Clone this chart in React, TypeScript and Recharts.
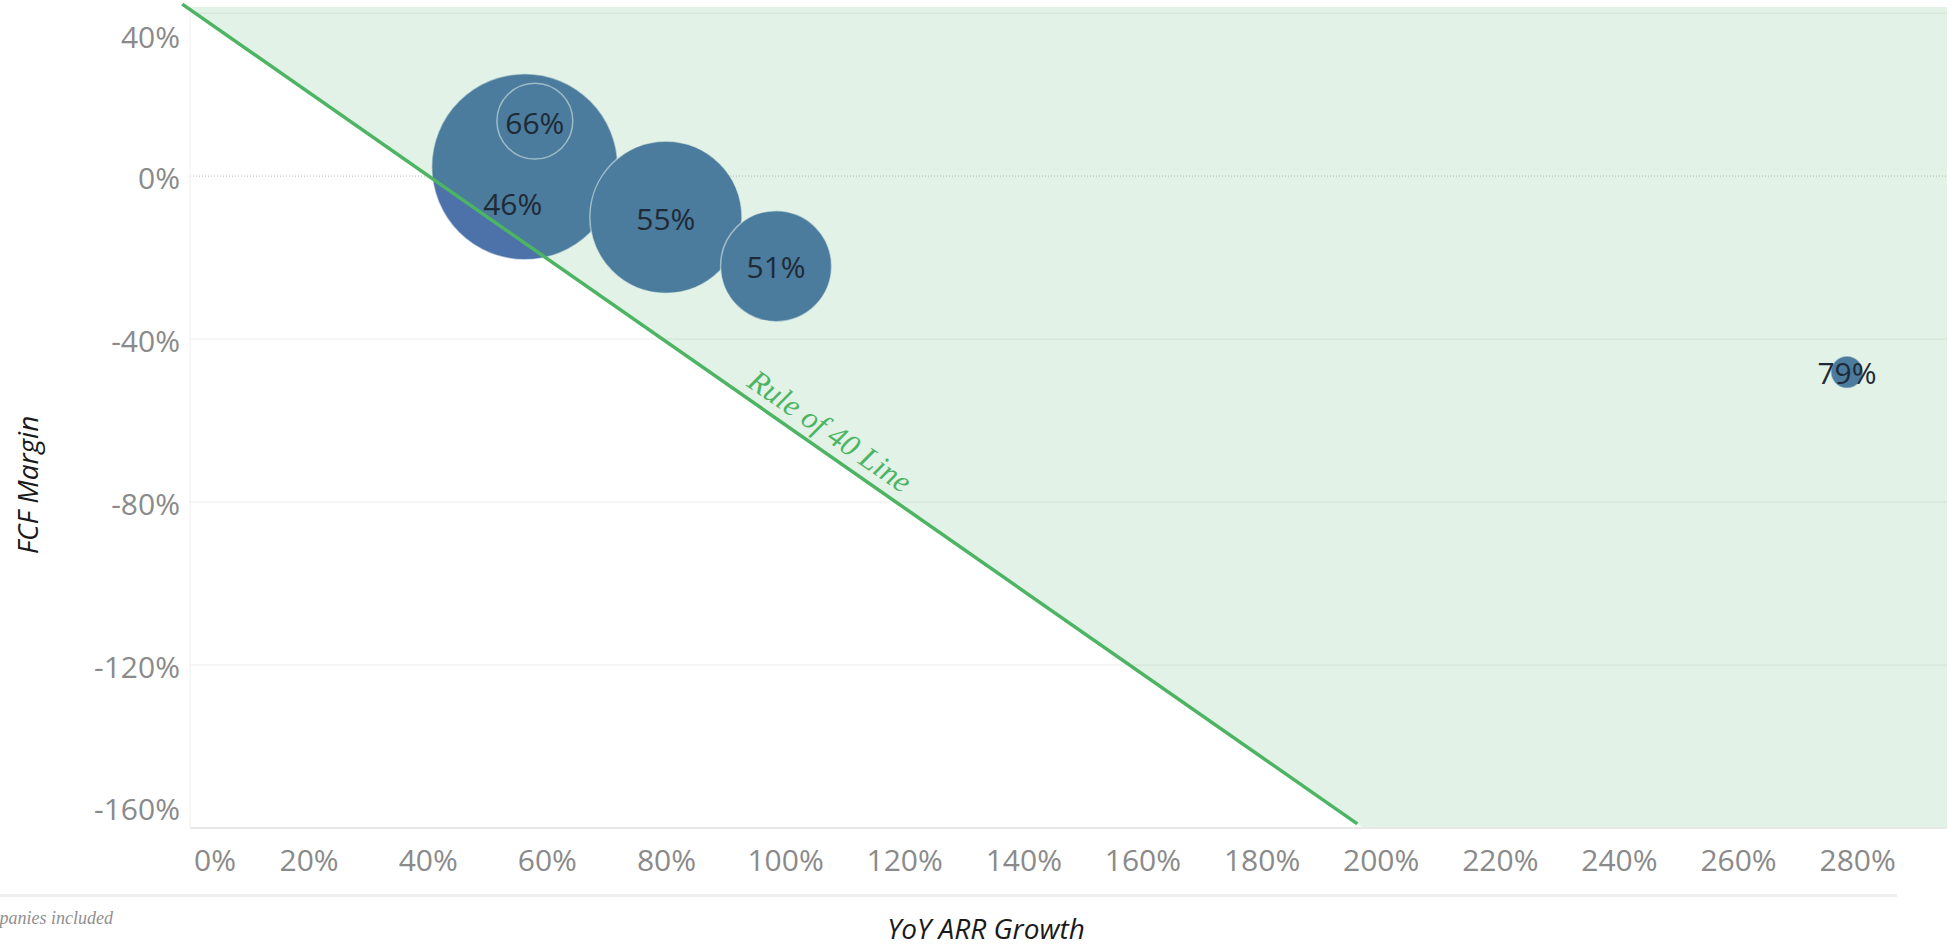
import {
  ComposedChart,
  Scatter,
  Area,
  XAxis,
  YAxis,
  CartesianGrid,
  ReferenceLine,
  ReferenceDot,
} from 'recharts';

// bubbles: YoY ARR growth (%), FCF margin (%), size, label (gross margin %)
const ARR_GROWTH = [56.2, 57.9, 79.9, 98.4, 278.2];
const FCF_MARGIN = [2.3, 13.5, -10.1, -22.1, -48.1];
const BUBBLE_SIZE = [865, 144, 578, 308, 26];
const GROSS_MARGIN = [46, 66, 55, 51, 79];

const X_TICKS = [0, 20, 40, 60, 80, 100, 120, 140, 160, 180, 200, 220, 240, 260, 280];
const Y_TICKS = [40, 0, -40, -80, -120, -160];

// rule of 40 line and the shaded zone above it
const RULE_X = [-1.3, 196];
const RULE_Y = [42.2, -159];
const ZONE_X = [0, 197, 295];
const ZONE_Y = [40.9, -160, -160];

const X_DOMAIN = [0, 295];
const Y_DOMAIN = [-160, 41.5];

const R_MAX = 93;
const BLUE = '#4C72A9';
const GREEN = '#4CB463';
const LABEL_SHIFT = [
  [-12, 38],
  [0, 2],
  [0, 2],
  [0, 1],
  [0, 1],
];

const bubbles = ARR_GROWTH.map((x, i) => ({
  x,
  y: FCF_MARGIN[i],
  size: BUBBLE_SIZE[i],
  label: `${GROSS_MARGIN[i]}%`,
  idx: i,
}));
const zone = ZONE_X.map((x, i) => ({ x, y: ZONE_Y[i] }));
const maxSize = Math.max(...BUBBLE_SIZE);

const Bubble = (props: any) => {
  const { cx, cy, payload } = props;
  const r = R_MAX * Math.sqrt(payload.size / maxSize);
  return (
    <circle cx={cx} cy={cy} r={r} fill={BLUE} stroke="#ffffff" strokeOpacity={0.55} strokeWidth={1.5} />
  );
};

const BubbleLabel = (props: any) => {
  const { cx, cy, payload } = props;
  const [dx, dy] = LABEL_SHIFT[payload.idx];
  return (
    <text
      x={cx + dx}
      y={cy + dy}
      dy="0.35em"
      textAnchor="middle"
      fontSize={30}
      fontFamily='"Open Sans", sans-serif'
      fill="#1e2a36"
    >
      {payload.label}
    </text>
  );
};

const XTick = ({ x, y, payload }: any) => (
  <text
    x={x + (payload.value === 0 ? 25 : 0)}
    y={y + 32}
    dy="0.35em"
    textAnchor="middle"
    fontSize={30}
    fontFamily='"Open Sans", sans-serif'
    fill="#8a8a8a"
  >
    {payload.value}%
  </text>
);

const YTick = ({ x, y, payload }: any) => {
  const shift = payload.value === 40 ? 24 : payload.value === -160 ? -19 : 2;
  return (
    <text
      x={x - 10}
      y={y + shift}
      dy="0.35em"
      textAnchor="end"
      fontSize={30}
      fontFamily='"Open Sans", sans-serif'
      fill="#8a8a8a"
    >
      {payload.value}%
    </text>
  );
};

const RuleLabel = ({ viewBox }: any) => {
  const cx = viewBox.x + viewBox.width / 2;
  const cy = viewBox.y + viewBox.height / 2;
  return (
    <text
      x={cx}
      y={cy}
      dy="0.35em"
      textAnchor="middle"
      transform={`rotate(34.7 ${cx} ${cy})`}
      fontSize={31}
      fontStyle="italic"
      fontFamily='"Liberation Serif", "DejaVu Serif", serif'
      fill={GREEN}
    >
      Rule of 40 Line
    </text>
  );
};

const App = () => {
  return (
    <div
      style={{
        position: 'absolute',
        left: 0,
        top: 0,
        width: 1957,
        height: 945,
        background: '#fff',
        overflow: 'hidden',
        fontFamily: '"Open Sans", sans-serif',
      }}
    >
      <ComposedChart width={1957} height={945} margin={{ top: 7, right: 10, bottom: 57, left: 0 }}>
        <CartesianGrid vertical={false} stroke="#ececec" horizontalValues={[40, -40, -80, -120]} />
        <XAxis
          dataKey="x"
          type="number"
          domain={X_DOMAIN}
          ticks={X_TICKS}
          allowDataOverflow
          height={60}
          tickSize={0}
          tickMargin={0}
          tickLine={false}
          axisLine={{ stroke: '#e8e8e8', strokeWidth: 2 }}
          tick={<XTick />}
        />
        <YAxis
          dataKey="y"
          type="number"
          domain={Y_DOMAIN}
          ticks={Y_TICKS}
          allowDataOverflow
          width={190}
          tickSize={0}
          tickMargin={0}
          tickLine={false}
          axisLine={{ stroke: '#f0f0f0' }}
          tick={<YTick />}
        />
        <ReferenceLine y={0} stroke="#b8b8b8" strokeDasharray="1 2" zIndex={-50} />
        <Scatter data={bubbles} shape={<Bubble />} isAnimationActive={false} zIndex={50} />
        <Area
          data={zone}
          dataKey="y"
          type="linear"
          baseValue={Y_DOMAIN[1]}
          fill="#4AAE63"
          fillOpacity={0.16}
          stroke="none"
          isAnimationActive={false}
          zIndex={100}
        />
        <Scatter data={bubbles} shape={<BubbleLabel />} isAnimationActive={false} zIndex={700} />
        <ReferenceLine
          segment={[
            { x: RULE_X[0], y: RULE_Y[0] },
            { x: RULE_X[1], y: RULE_Y[1] },
          ]}
          stroke={GREEN}
          strokeWidth={3.5}
          ifOverflow="visible"
          zIndex={800}
        />
        <ReferenceDot
          x={107.5}
          y={-62.5}
          r={1}
          fill="none"
          stroke="none"
          ifOverflow="visible"
          label={<RuleLabel />}
          zIndex={900}
        />
      </ComposedChart>
      <div
        style={{
          position: 'absolute',
          left: 2,
          top: 445,
          width: 50,
          height: 80,
          display: 'flex',
          alignItems: 'center',
          justifyContent: 'center',
        }}
      >
        <div
          style={{
            transform: 'rotate(-90deg)',
            whiteSpace: 'nowrap',
            fontStyle: 'italic',
            fontSize: 28,
            color: '#1a1a1a',
          }}
        >
          FCF Margin
        </div>
      </div>
      <div
        style={{
          position: 'absolute',
          left: 0,
          top: 894,
          width: 1897,
          height: 3,
          background: '#efefef',
        }}
      />
      <div
        style={{
          position: 'absolute',
          left: -300,
          width: 413,
          top: 905,
          textAlign: 'right',
          whiteSpace: 'nowrap',
          fontStyle: 'italic',
          fontSize: 18,
          lineHeight: '26px',
          fontFamily: '"Liberation Serif", serif',
          color: '#8f8f8f',
        }}
      >
        companies included
      </div>
      <div
        style={{
          position: 'absolute',
          left: 786,
          width: 400,
          top: 912,
          textAlign: 'center',
          fontStyle: 'italic',
          fontSize: 28,
          color: '#1a1a1a',
          lineHeight: '32px',
        }}
      >
        YoY ARR Growth
      </div>
    </div>
  );
};

export default App;
